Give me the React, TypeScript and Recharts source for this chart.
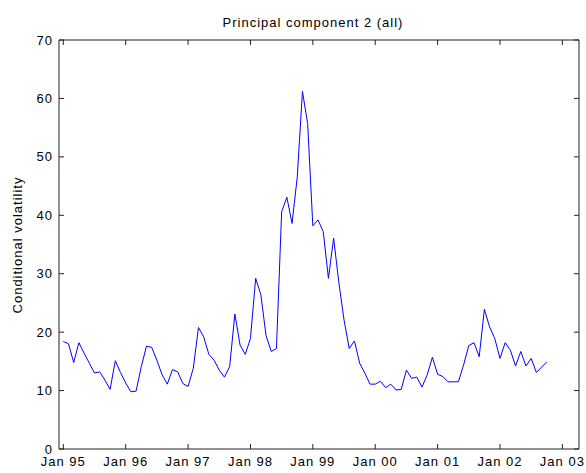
import { LineChart, Line, XAxis, YAxis } from 'recharts';

// monthly values, Jan 95 .. Oct 02
const values95 = [18.4, 18.0, 14.8, 18.2, 16.4, 14.7, 13.0, 13.2, 11.8, 10.2, 15.1, 13.1];
const values96 = [11.3, 9.8, 9.9, 14.1, 17.6, 17.4, 15.2, 12.7, 11.1, 13.6, 13.2, 11.2];
const values97 = [10.7, 13.8, 20.8, 19.2, 16.2, 15.2, 13.5, 12.3, 14.1, 23.1, 17.8, 16.2];
const values98 = [18.9, 29.2, 26.4, 19.4, 16.7, 17.2, 40.6, 43.1, 38.6, 46.5, 61.2, 55.7];
const values99 = [38.2, 39.2, 37.2, 29.2, 36.1, 28.5, 22.1, 17.2, 18.5, 14.7, 13.0, 11.1];
const values00 = [11.1, 11.6, 10.5, 11.1, 10.1, 10.2, 13.5, 12.1, 12.3, 10.6, 12.7, 15.7];
const values01 = [12.8, 12.4, 11.5, 11.5, 11.5, 14.4, 17.7, 18.2, 15.8, 23.9, 20.9, 18.9];
const values02 = [15.5, 18.2, 16.9, 14.2, 16.7, 14.2, 15.5, 13.1, 14.0, 14.9];

const xTickLabels = ['Jan 95', 'Jan 96', 'Jan 97', 'Jan 98', 'Jan 99', 'Jan 00', 'Jan 01', 'Jan 02', 'Jan 03'];
const yTicks = [0, 10, 20, 30, 40, 50, 60, 70];

const series = [
    ...values95, ...values96, ...values97, ...values98,
    ...values99, ...values00, ...values01, ...values02,
];
// t = months since Jan 95
const data = series.map((v, i) => ({ t: i, vol: v }));
const xTicks = xTickLabels.map((_, i) => i * 12);
const xDomain = [-0.83, 99.2];

const axisColor = '#222';
const TICK = 5;

// matlab style: ticks point into the plot box
const BottomTick = ({ x, y, payload }: any) => (
    <g>
        <line x1={x} y1={y} x2={x} y2={y - TICK} stroke={axisColor} />
        <text x={x} y={y + 8} dy="0.71em" textAnchor="middle" fontSize={13} fill="#000">
            {xTickLabels[Math.round(payload.value / 12)]}
        </text>
    </g>
);
const TopTick = ({ x, y }: any) => <line x1={x} y1={y} x2={x} y2={y + TICK} stroke={axisColor} />;
const LeftTick = ({ x, y, payload }: any) => (
    <g>
        <line x1={x} y1={y} x2={x + TICK} y2={y} stroke={axisColor} />
        <text x={x - 6} y={y} dy="0.355em" textAnchor="end" fontSize={13} fill="#000">
            {payload.value}
        </text>
    </g>
);
const RightTick = ({ x, y }: any) => <line x1={x} y1={y} x2={x - TICK} y2={y} stroke={axisColor} />;

const Titles = () => (
    <g>
        <text x={313} y={27} textAnchor="middle" fontSize={13} fill="#000">
            Principal component 2 (all)
        </text>
        <text x={22} y={245} transform="rotate(-90 22 245)" textAnchor="middle" fontSize={13} fill="#000">
            Conditional volatility
        </text>
    </g>
);

export default function App() {
    return (
        <div
            style={{
                position: 'absolute',
                left: 0,
                top: 0,
                width: 586,
                height: 473,
                background: '#fff',
                fontFamily: '"Liberation Sans", Arial, sans-serif',
                letterSpacing: '1px',
            }}
        >
            <LineChart width={586} height={473} data={data} margin={{ top: 39, right: 0, bottom: 0, left: 0 }}>
                <XAxis
                    dataKey="t"
                    type="number"
                    domain={xDomain}
                    ticks={xTicks}
                    interval={0}
                    allowDataOverflow
                    height={24}
                    tickSize={0}
                    tickMargin={0}
                    tickLine={false}
                    stroke={axisColor}
                    tick={<BottomTick />}
                />
                <XAxis
                    xAxisId="top"
                    orientation="top"
                    dataKey="t"
                    type="number"
                    domain={xDomain}
                    ticks={xTicks}
                    interval={0}
                    allowDataOverflow
                    height={1}
                    tickSize={0}
                    tickMargin={0}
                    tickLine={false}
                    stroke={axisColor}
                    tick={<TopTick />}
                />
                <YAxis
                    domain={[0, 70]}
                    ticks={yTicks}
                    interval={0}
                    width={59}
                    tickSize={0}
                    tickMargin={0}
                    tickLine={false}
                    stroke={axisColor}
                    tick={<LeftTick />}
                    label={{ content: () => <Titles /> }}
                />
                <YAxis
                    yAxisId="right"
                    orientation="right"
                    domain={[0, 70]}
                    ticks={yTicks}
                    interval={0}
                    width={7}
                    tickSize={0}
                    tickMargin={0}
                    tickLine={false}
                    stroke={axisColor}
                    tick={<RightTick />}
                />
                {/* invisible copy so the top / right axes get drawn */}
                <Line
                    xAxisId="top"
                    yAxisId="right"
                    dataKey="vol"
                    stroke="none"
                    dot={false}
                    activeDot={false}
                    isAnimationActive={false}
                />
                <Line
                    type="linear"
                    dataKey="vol"
                    stroke="#0000ff"
                    strokeWidth={1}
                    dot={false}
                    activeDot={false}
                    isAnimationActive={false}
                />
            </LineChart>
        </div>
    );
}
